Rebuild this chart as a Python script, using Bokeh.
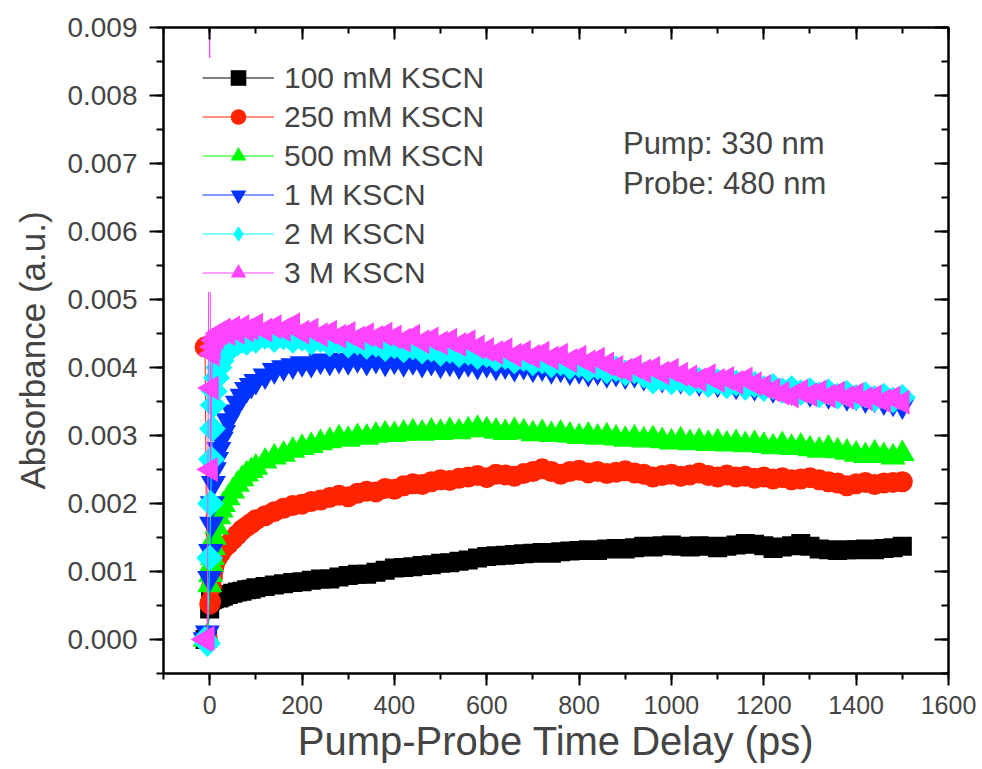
import numpy as np
from bokeh.plotting import figure
from bokeh.models import (Range1d, LinearAxis, SingleIntervalTicker, PrintfTickFormatter,
                          Legend, LegendItem, Label)
from bokeh.embed import file_html
from bokeh.resources import INLINE

# Pump-probe delay (ps)
delay_ps = [
    -10, -5, 0, 2, 4, 6, 8, 10, 15, 20,
    25, 30, 40, 50, 60, 70, 80, 90, 100,
    120, 140, 160, 180, 200, 220, 240, 260, 280, 300,
    320, 340, 360, 380, 400, 420, 440, 460, 480, 500,
    520, 540, 560, 580, 600, 620, 640, 660, 680, 700,
    720, 740, 760, 780, 800, 820, 840, 860, 880, 900,
    920, 940, 960, 980, 1000, 1020, 1040, 1060, 1080, 1100,
    1120, 1140, 1160, 1180, 1200, 1220, 1240, 1260, 1280, 1300,
    1320, 1340, 1360, 1380, 1400, 1420, 1440, 1460, 1480, 1500,
]

# Transient absorbance at 480 nm for each KSCN concentration
abs_100mM = [
    0.00000, 0.00002, 0.00045, 0.00057, 0.00060, 0.00059, 0.00061, 0.00060, 0.00062, 0.00061,
    0.00063, 0.00064, 0.00066, 0.00068, 0.00070, 0.00071, 0.00073, 0.00074, 0.00076,
    0.00078, 0.00080, 0.00082, 0.00084, 0.00085, 0.00087, 0.00089, 0.00089, 0.00092, 0.00094,
    0.00096, 0.00096, 0.00099, 0.00102, 0.00105, 0.00106, 0.00107, 0.00109, 0.00110, 0.00112,
    0.00113, 0.00115, 0.00117, 0.00120, 0.00122, 0.00123, 0.00124, 0.00125, 0.00126, 0.00127,
    0.00128, 0.00127, 0.00129, 0.00130, 0.00131, 0.00132, 0.00131, 0.00133, 0.00134, 0.00133,
    0.00135, 0.00137, 0.00136, 0.00138, 0.00139, 0.00137, 0.00136, 0.00138, 0.00137, 0.00135,
    0.00137, 0.00139, 0.00141, 0.00140, 0.00138, 0.00134, 0.00136, 0.00138, 0.00141, 0.00137,
    0.00133, 0.00132, 0.00131, 0.00132, 0.00132, 0.00133, 0.00132, 0.00134, 0.00135, 0.00137,
]
abs_250mM = [
    0.00430, 0.00002, 0.00052, 0.00056, 0.00078, 0.00092, 0.00103, 0.00110, 0.00118, 0.00124,
    0.00129, 0.00134, 0.00140, 0.00147, 0.00154, 0.00161, 0.00166, 0.00171, 0.00176,
    0.00182, 0.00188, 0.00193, 0.00197, 0.00199, 0.00203, 0.00205, 0.00209, 0.00212, 0.00210,
    0.00215, 0.00218, 0.00217, 0.00222, 0.00221, 0.00226, 0.00229, 0.00228, 0.00232, 0.00235,
    0.00234, 0.00237, 0.00239, 0.00241, 0.00238, 0.00243, 0.00242, 0.00240, 0.00244, 0.00247,
    0.00251, 0.00247, 0.00243, 0.00247, 0.00249, 0.00245, 0.00247, 0.00244, 0.00246, 0.00248,
    0.00245, 0.00243, 0.00239, 0.00241, 0.00243, 0.00240, 0.00242, 0.00245, 0.00241, 0.00239,
    0.00242, 0.00239, 0.00240, 0.00237, 0.00239, 0.00236, 0.00238, 0.00235, 0.00236, 0.00238,
    0.00235, 0.00232, 0.00230, 0.00226, 0.00229, 0.00231, 0.00228, 0.00230, 0.00231, 0.00232,
]
abs_500mM = [
    0.00000, 0.00005, 0.00080, 0.00095, 0.00110, 0.00120, 0.00135, 0.00150, 0.00165, 0.00180,
    0.00190, 0.00198, 0.00208, 0.00218, 0.00228, 0.00236, 0.00243, 0.00248, 0.00253,
    0.00262, 0.00268, 0.00272, 0.00278, 0.00282, 0.00285, 0.00289, 0.00292, 0.00296, 0.00294,
    0.00298, 0.00297, 0.00300, 0.00302, 0.00301, 0.00303, 0.00305, 0.00303, 0.00306, 0.00304,
    0.00307, 0.00305, 0.00308, 0.00310, 0.00308, 0.00306, 0.00304, 0.00307, 0.00305, 0.00302,
    0.00304, 0.00301, 0.00303, 0.00300, 0.00298, 0.00300, 0.00297, 0.00299, 0.00296, 0.00294,
    0.00296, 0.00293, 0.00295, 0.00292, 0.00290, 0.00293, 0.00289, 0.00291, 0.00288, 0.00290,
    0.00287, 0.00289, 0.00286, 0.00288, 0.00285, 0.00283, 0.00286, 0.00282, 0.00284, 0.00280,
    0.00278, 0.00281, 0.00277, 0.00275, 0.00272, 0.00270, 0.00274, 0.00270, 0.00268, 0.00273,
]
abs_1M = [
    0.00000, 0.00010, 0.00090, 0.00130, 0.00170, 0.00200, 0.00230, 0.00250, 0.00265, 0.00280,
    0.00295, 0.00305, 0.00322, 0.00335, 0.00348, 0.00358, 0.00368, 0.00374, 0.00380,
    0.00388, 0.00396, 0.00400, 0.00403, 0.00406, 0.00405, 0.00410, 0.00408, 0.00411, 0.00409,
    0.00412, 0.00408, 0.00411, 0.00407, 0.00410, 0.00406, 0.00409, 0.00405, 0.00408, 0.00404,
    0.00407, 0.00403, 0.00406, 0.00402, 0.00405, 0.00401, 0.00403, 0.00399, 0.00402, 0.00398,
    0.00400, 0.00396, 0.00398, 0.00394, 0.00396, 0.00392, 0.00394, 0.00390, 0.00392, 0.00388,
    0.00390, 0.00386, 0.00387, 0.00383, 0.00385, 0.00381, 0.00382, 0.00378, 0.00380, 0.00376,
    0.00377, 0.00373, 0.00375, 0.00371, 0.00372, 0.00368, 0.00369, 0.00365, 0.00366, 0.00362,
    0.00363, 0.00359, 0.00360, 0.00356, 0.00357, 0.00353, 0.00354, 0.00350, 0.00348, 0.00344,
]
abs_2M = [
    0.00000, -0.00006, 0.00120, 0.00200, 0.00265, 0.00310, 0.00345, 0.00365, 0.00385, 0.00400,
    0.00410, 0.00418, 0.00426, 0.00432, 0.00436, 0.00440, 0.00437, 0.00443, 0.00440,
    0.00446, 0.00441, 0.00445, 0.00440, 0.00443, 0.00437, 0.00441, 0.00435, 0.00439, 0.00433,
    0.00437, 0.00431, 0.00434, 0.00428, 0.00432, 0.00426, 0.00430, 0.00424, 0.00427, 0.00421,
    0.00425, 0.00419, 0.00422, 0.00416, 0.00419, 0.00413, 0.00416, 0.00410, 0.00413, 0.00407,
    0.00410, 0.00404, 0.00407, 0.00401, 0.00404, 0.00398, 0.00401, 0.00395, 0.00398, 0.00392,
    0.00395, 0.00389, 0.00380, 0.00385, 0.00379, 0.00383, 0.00377, 0.00381, 0.00375, 0.00379,
    0.00373, 0.00377, 0.00371, 0.00375, 0.00369, 0.00372, 0.00366, 0.00369, 0.00363, 0.00366,
    0.00360, 0.00364, 0.00358, 0.00362, 0.00356, 0.00360, 0.00354, 0.00358, 0.00352, 0.00356,
]
abs_3M = [
    0.00000, 0.00002, 0.00980, 0.00250, 0.00370, 0.00420, 0.00430, 0.00440, 0.00445, 0.00450,
    0.00452, 0.00455, 0.00450, 0.00458, 0.00452, 0.00460, 0.00455, 0.00458, 0.00462,
    0.00455, 0.00460, 0.00456, 0.00463, 0.00452, 0.00455, 0.00448, 0.00452, 0.00446, 0.00450,
    0.00443, 0.00448, 0.00444, 0.00449, 0.00445, 0.00440, 0.00446, 0.00438, 0.00442, 0.00436,
    0.00440, 0.00434, 0.00438, 0.00430, 0.00426, 0.00422, 0.00426, 0.00418, 0.00422, 0.00416,
    0.00421, 0.00414, 0.00418, 0.00410, 0.00415, 0.00408, 0.00412, 0.00405, 0.00400, 0.00396,
    0.00401, 0.00395, 0.00399, 0.00392, 0.00396, 0.00390, 0.00386, 0.00382, 0.00388, 0.00381,
    0.00384, 0.00378, 0.00383, 0.00376, 0.00372, 0.00367, 0.00362, 0.00358, 0.00365, 0.00360,
    0.00364, 0.00358, 0.00362, 0.00356, 0.00360, 0.00354, 0.00357, 0.00351, 0.00355, 0.00349,
]

series_labels = ["100 mM KSCN", "250 mM KSCN", "500 mM KSCN", "1 M KSCN", "2 M KSCN", "3 M KSCN"]
series_values = [abs_100mM, abs_250mM, abs_500mM, abs_1M, abs_2M, abs_3M]
series_colors = ["#000000", "#FF2400", "#00FF00", "#0033FF", "#00FFFF", "#FF44FF"]
series_markers = ["square", "circle", "triangle", "inverted_triangle", "square", "triangle"]
series_sizes = [19, 21, 25, 25, 19, 25]
series_angles = [0.0, 0.0, 0.0, 0.0, np.pi / 4, np.pi / 2]
# legend keys are drawn unrotated, so the rotated square gets a diamond key
legend_markers = ["square", "circle", "triangle", "inverted_triangle", "diamond", "triangle"]

FONT = "Liberation Sans"

p = figure(width=982, height=769, output_backend="svg", toolbar_location=None,
           x_range=Range1d(-100, 1600), y_range=Range1d(-0.0005, 0.0090001),
           min_border_left=163, min_border_right=34, min_border_top=27, min_border_bottom=96,
           background_fill_color="white", border_fill_color="white")
p.grid.visible = False
p.outline_line_color = "black"
p.outline_line_width = 2

x_ticker = SingleIntervalTicker(interval=200, num_minor_ticks=2)
y_ticker = SingleIntervalTicker(interval=0.001, num_minor_ticks=2)

xa = p.xaxis[0]
xa.ticker = x_ticker
xa.axis_label = "Pump-Probe Time Delay (ps)"
xa.axis_label_text_font = FONT
xa.axis_label_text_font_size = "40px"
xa.axis_label_text_font_style = "normal"
xa.axis_label_standoff = 2
xa.major_label_text_font = FONT
xa.major_label_text_font_size = "25px"
xa.major_label_standoff = 10
xa.major_tick_out = 12
xa.major_tick_in = 0
xa.minor_tick_out = 6
xa.minor_tick_in = 0
xa.axis_line_width = 2
xa.major_tick_line_width = 2
xa.minor_tick_line_width = 2

ya = p.yaxis[0]
ya.ticker = y_ticker
ya.formatter = PrintfTickFormatter(format="%.3f")
ya.axis_label = "Absorbance (a.u.)"
ya.axis_label_text_font = FONT
ya.axis_label_text_font_size = "35px"
ya.axis_label_text_font_style = "normal"
ya.axis_label_standoff = 12
ya.major_label_text_font = FONT
ya.major_label_text_font_size = "28px"
ya.major_label_standoff = 12
ya.major_tick_out = 14
ya.major_tick_in = 0
ya.minor_tick_out = 7
ya.minor_tick_in = 0
ya.axis_line_width = 2
ya.major_tick_line_width = 2
ya.minor_tick_line_width = 2

# mirrored frame axes with inward ticks and no labels
top_axis = LinearAxis(ticker=x_ticker, major_label_text_font_size="1px", major_label_text_color=None,
                      major_label_standoff=0,
                      major_tick_in=12, major_tick_out=0, minor_tick_in=6, minor_tick_out=0,
                      axis_line_width=2, major_tick_line_width=2, minor_tick_line_width=2)
right_axis = LinearAxis(ticker=y_ticker, major_label_text_font_size="1px", major_label_text_color=None,
                        major_label_standoff=0,
                        major_tick_in=14, major_tick_out=0, minor_tick_in=7, minor_tick_out=0,
                        axis_line_width=2, major_tick_line_width=2, minor_tick_line_width=2)
p.add_layout(top_axis, "above")
p.add_layout(right_axis, "right")

items = []
for label, vals, color, marker, size, ang, lmark in zip(series_labels, series_values, series_colors,
                                                        series_markers, series_sizes, series_angles,
                                                        legend_markers):
    ln = p.line(delay_ps, vals, line_color=color, line_width=1)
    sc = p.scatter(delay_ps, vals, marker=marker, size=size, angle=ang,
                   fill_color=color, line_color=None)
    if lmark != marker:
        key = p.scatter(delay_ps, vals, marker=lmark, size=size, fill_color=color,
                        line_color=None, visible=False)
    else:
        key = sc
    items.append(LegendItem(label=label, renderers=[ln, key]))

legend = Legend(items=items, location=(39, 381), orientation="vertical",
                glyph_width=72, glyph_height=39, label_height=39, label_standoff=10,
                spacing=0, padding=0, margin=0, click_policy="none",
                label_text_font=FONT, label_text_font_size="30px",
                background_fill_color="white", background_fill_alpha=1.0,
                border_line_color=None, inactive_fill_alpha=0.0)
p.add_layout(legend)

p.add_layout(Label(x=895, y=0.00729, text="Pump: 330 nm", text_font=FONT,
                   text_font_size="31px", text_baseline="middle", text_align="left"))
p.add_layout(Label(x=895, y=0.00671, text="Probe: 480 nm", text_font=FONT,
                   text_font_size="31px", text_baseline="middle", text_align="left"))

open("out.html", "w").write(file_html(p, INLINE))
